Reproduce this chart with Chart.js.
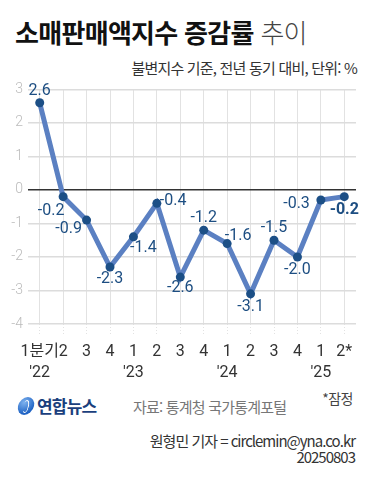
<!DOCTYPE html>
<html lang="ko">
<head>
<meta charset="utf-8">
<script src="https://cdn.jsdelivr.net/npm/chart.js@4"></script>
<style>
  html, body { margin: 0; padding: 0; background: #fff; }
  body { width: 372px; height: 500px; position: relative; overflow: hidden;
         font-family: "Noto Sans CJK KR", "Noto Sans", sans-serif; }
  .title { position: absolute; left: 15px; top: 14px; font-size: 26px; line-height: 36px;
           letter-spacing: -0.7px; color: #111; white-space: nowrap; }
  .title b { font-weight: 700; }
  .title span { font-weight: 300; color: #444; }
  .sub { position: absolute; right: 15px; top: 58px; font-size: 15px; line-height: 20px;
         letter-spacing: -0.8px; color: #333; white-space: nowrap; }
  #wrap { position: absolute; left: 0; top: 76px; width: 372px; height: 310px; }
  .logo { position: absolute; left: 18px; top: 397px; height: 18px; white-space: nowrap; }
  .logo i { position: absolute; left: 0; top: 0; width: 16px; height: 18px; border-radius: 50%;
            background: radial-gradient(circle at 35% 30%, #7fb3ef, #1f63c4 70%); transform: skewX(-12deg); }
  .logo i:after { content: ""; position: absolute; left: 5px; top: 3px; width: 4px; height: 11px;
                  border: 1.5px solid #fff; border-radius: 50%; border-left-color: transparent; }
  .logo b { position: absolute; left: 19px; top: -4px; font-size: 17px; font-weight: 700; color: #1b3f7d;
            letter-spacing: -0.8px; }
  .src { position: absolute; left: 133px; top: 396px; font-size: 15px; letter-spacing: -0.8px; color: #777; white-space: nowrap; }
  .note { position: absolute; right: 19px; top: 388px; font-size: 14px; letter-spacing: -0.5px; color: #444; }
  .credit { position: absolute; right: 17px; top: 433px; font-size: 15px; line-height: 16px; letter-spacing: -1px;
            color: #333; text-align: right; white-space: nowrap; }
</style>
</head>
<body>
<div class="title"><b>소매판매액지수 증감률</b> <span>추이</span></div>
<div class="sub">불변지수 기준, 전년 동기 대비, 단위: %</div>
<div id="wrap"><canvas id="retailChart"></canvas></div>
<div class="logo"><i></i><b>연합뉴스</b></div>
<div class="src">자료: 통계청 국가통계포털</div>
<div class="note">*잠정</div>
<div class="credit">원형민 기자 = circlemin@yna.co.kr<br>20250803</div>

<script>
// 분기 라벨 (연도는 둘째 줄)
const quarters = ['1분기', '2', '3', '4', '1', '2', '3', '4', '1', '2', '3', '4', '1', '2*'];
const years = ["'22", '', '', '', "'23", '', '', '', "'24", '', '', '', "'25", ''];
// 전년 동기 대비 증감률 (%)
const growthRates = [2.6, -0.2, -0.9, -2.3, -1.4, -0.4, -2.6, -1.2, -1.6, -3.1, -1.5, -2.0, -0.3, -0.2];
const yTicks = [3, 2, 1, 0, -1, -2, -3, -4];

// 값 라벨 위치 조정 [dx, dy, align]
const labelOffsets = [
    [0, -12, 'center'], [-12, 14, 'center'], [-18, 9, 'center'], [0, 12, 'center'],
    [10, 11, 'center'], [3, -2, 'left'], [0, 11, 'center'], [0, -12, 'center'],
    [11, -8, 'center'], [0, 13, 'center'], [0, -12, 'center'], [0, 13, 'center'],
    [-11, 4, 'right'], [0, 13, 'center']
];

const valueLabels = {
    id: 'valueLabels',
    afterDatasetsDraw(chart) {
        const ctx = chart.ctx;
        const meta = chart.getDatasetMeta(0);
        ctx.save();
        ctx.fillStyle = '#1d4e82';
        ctx.textBaseline = 'middle';
        meta.data.forEach(function(pt, i) {
            const off = labelOffsets[i];
            const last = i === growthRates.length - 1;
            ctx.font = (last ? '700 ' : '400 ') + '16px Roboto, sans-serif';
            ctx.textAlign = off[2];
            ctx.fillText(growthRates[i].toFixed(1), pt.x + off[0], pt.y + off[1]);
        });
        ctx.restore();
    }
};

const ctxRetail = document.getElementById('retailChart');
new Chart(ctxRetail, {
    type: 'line',
    data: {
        labels: quarters.map(function(q, i) { return years[i] ? [q, years[i]] : q; }),
        datasets: [{
            data: growthRates,
            borderColor: '#5b80c2',
            borderWidth: 5,
            pointRadius: 4.5,
            pointHoverRadius: 4.5,
            pointBackgroundColor: '#1c4f86',
            pointBorderWidth: 0,
            tension: 0,
            clip: false
        }]
    },
    options: {
        responsive: true,
        maintainAspectRatio: false,
        animation: false,
        layout: { padding: { top: 8, right: 16, left: 0, bottom: 0 } },
        plugins: {
            legend: { display: false },
            tooltip: { enabled: false }
        },
        scales: {
            x: {
                offset: true,
                border: { display: false },
                grid: {
                    color: '#e2e2e2',
                    lineWidth: 1,
                    borderDash: [1, 2],
                    tickLength: 12,
                    tickBorderDash: [1, 2],
                    offset: false
                },
                ticks: {
                    color: '#333',
                    padding: 6,
                    maxRotation: 0,
                    autoSkip: false,
                    font: { family: 'Roboto, "Noto Sans CJK KR", sans-serif', size: 16, lineHeight: 1.3 }
                },
                afterFit: function(scale) { scale.height = 62; }
            },
            y: {
                min: -4,
                max: 3,
                border: { display: false },
                afterBuildTicks: function(scale) {
                    scale.ticks = yTicks.map(function(v) { return { value: v }; });
                },
                afterFit: function(scale) { scale.width = 28; },
                grid: {
                    drawTicks: false,
                    color: function(c) { return c.tick && c.tick.value === 0 ? '#333' : '#dcdcdc'; },
                    lineWidth: 1.5
                },
                ticks: {
                    color: '#bbb',
                    padding: 5,
                    font: { family: 'Roboto, sans-serif', size: 14, weight: '300' }
                }
            }
        }
    },
    plugins: [valueLabels]
});
</script>
</body>
</html>
